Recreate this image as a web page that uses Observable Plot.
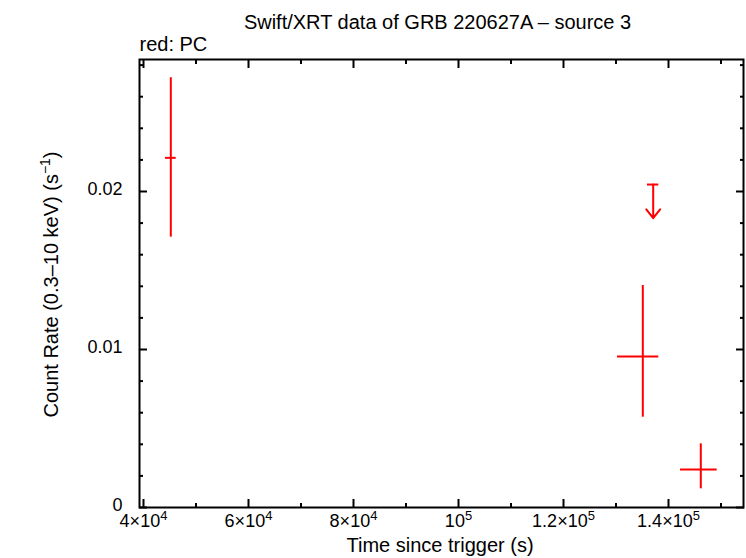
<!DOCTYPE html>
<html><head><meta charset="utf-8">
<script src="https://cdn.jsdelivr.net/npm/d3@7"></script>
<script src="https://cdn.jsdelivr.net/npm/@observablehq/plot@0.6"></script>
<style>html,body{margin:0;padding:0;background:#fff;} svg{display:block;}</style>
</head><body><div id="chart"></div>
<script>
// ---- text ----
const titleText = "Swift/XRT data of GRB 220627A \u2013 source 3";
const subtitleText = "red: PC";
const xLabelText = "Time since trigger (s)";
const yLabelText = "Count Rate (0.3\u201310 keV) (s^\u22121^)";

// ---- ticks ----
const xMajor = [40000, 60000, 80000, 100000, 120000, 140000];
const xTickLabels = ["4\u00d710^4", "6\u00d710^4", "8\u00d710^4", "10^5", "1.2\u00d710^5", "1.4\u00d710^5"];
const xMinor = [50000, 70000, 90000, 110000, 130000, 150000];
const yMajor = [0, 0.01, 0.02];
const yTickLabels = ["0", "0.01", "0.02"];
const yMinor = [0.002, 0.004, 0.006, 0.008, 0.012, 0.014, 0.016, 0.018, 0.022, 0.024, 0.026, 0.028];

// ---- data (PC mode) ----
const time   = [45200, 135105, 146152];
const timeLo = [44190, 130286, 142286];
const timeHi = [46229, 138152, 149276];
const rate   = [0.02213, 0.009557, 0.002405];
const rateLo = [0.01711, 0.005715, 0.001183];
const rateHi = [0.02720, 0.01405, 0.00403];

// upper limit
const ulTime = [137086];
const ulTimeLo = [136000];
const ulTimeHi = [138152];
const ulRate = [0.02044];
const ulTip = [0.01831];

const pts = time.map((t, i) => ({t, tlo: timeLo[i], thi: timeHi[i], r: rate[i], rlo: rateLo[i], rhi: rateHi[i]}));
const uls = ulTime.map((t, i) => ({t, tlo: ulTimeLo[i], thi: ulTimeHi[i], r: ulRate[i], tip: ulTip[i]}));

const red = "#ff0000";
const font = "'Liberation Sans', Arial, Helvetica, sans-serif";
const xFmt = new Map(xMajor.map((v, i) => [v, xTickLabels[i]]));
const yFmt = new Map(yMajor.map((v, i) => [v, yTickLabels[i]]));

const tickAxes = [];
for (const anchor of ["bottom", "top"]) {
  tickAxes.push(Plot.axisX({ticks: xMajor, anchor, tickSize: -8, fill: "none", strokeWidth: 2, label: null}));
  tickAxes.push(Plot.axisX({ticks: xMinor, anchor, tickSize: -4, fill: "none", strokeWidth: 2, label: null}));
}
for (const anchor of ["left", "right"]) {
  tickAxes.push(Plot.axisY({ticks: yMajor, anchor, tickSize: -8, fill: "none", strokeWidth: 2, label: null}));
  tickAxes.push(Plot.axisY({ticks: yMinor, anchor, tickSize: -4, fill: "none", strokeWidth: 2, label: null}));
}

const chart = Plot.plot({
  width: 746,
  height: 558,
  marginLeft: 139,
  marginRight: 3,
  marginTop: 59,
  marginBottom: 51,
  style: {fontFamily: font, background: "white", color: "black", fontSize: "18px"},
  x: {domain: [39238, 154286]},
  y: {domain: [0, 0.028354]},
  marks: [
    ...tickAxes,
    Plot.axisX({ticks: xMajor, anchor: "bottom", tickSize: 0, tickPadding: 7, fontSize: 18, tickFormat: d => xFmt.get(d), label: null}),
    Plot.axisY({ticks: yMajor, anchor: "left", tickSize: 0, tickPadding: 17, fontSize: 18, dy: -2, tickFormat: d => yFmt.get(d), label: null}),
    Plot.frame({strokeWidth: 2}),
    Plot.ruleX(pts, {x: "t", y1: "rlo", y2: "rhi", stroke: red, strokeWidth: 2}),
    Plot.ruleY(pts, {y: "r", x1: "tlo", x2: "thi", stroke: red, strokeWidth: 2}),
    Plot.ruleY(uls, {y: "r", x1: "tlo", x2: "thi", stroke: red, strokeWidth: 2}),
    Plot.arrow(uls, {x: "t", y1: "r", y2: "tip", stroke: red, strokeWidth: 2, headLength: 16, headAngle: 76}),
    Plot.text([titleText], {frameAnchor: "top", dx: -4, dy: -31, lineAnchor: "bottom", fontSize: 20}),
    Plot.text([subtitleText], {frameAnchor: "top-left", textAnchor: "start", dy: -9, lineAnchor: "bottom", fontSize: 20}),
    Plot.text([xLabelText], {frameAnchor: "bottom", dx: -1.5, dy: 44.5, lineAnchor: "bottom", fontSize: 20}),
    Plot.text([yLabelText], {frameAnchor: "left", textAnchor: "middle", rotate: -90, dx: -82, dy: 1, lineAnchor: "bottom", fontSize: 20})
  ]
});
document.getElementById("chart").appendChild(chart);

// superscripts: text "a^b^c" -> a, raised b, c
const ns = "http://www.w3.org/2000/svg";
function superscript(el) {
  const s = el.textContent;
  if (!s.includes("^")) return;
  const baseSize = parseFloat(getComputedStyle(el).fontSize) || 18;
  const parts = s.split("^");
  while (el.firstChild) el.removeChild(el.firstChild);
  const supSize = Math.round(baseSize * 0.72);
  const raise = Math.round(baseSize * 0.4);
  parts.forEach((p, i) => {
    if (!p) return;
    const ts = document.createElementNS(ns, "tspan");
    ts.textContent = p;
    if (i % 2 === 1) {
      ts.setAttribute("font-size", supSize);
      ts.setAttribute("dy", -raise);
    } else if (i > 0) {
      ts.setAttribute("dy", raise);
    }
    el.appendChild(ts);
  });
}
Array.from(chart.querySelectorAll("text")).forEach(superscript);
</script>
</body></html>
